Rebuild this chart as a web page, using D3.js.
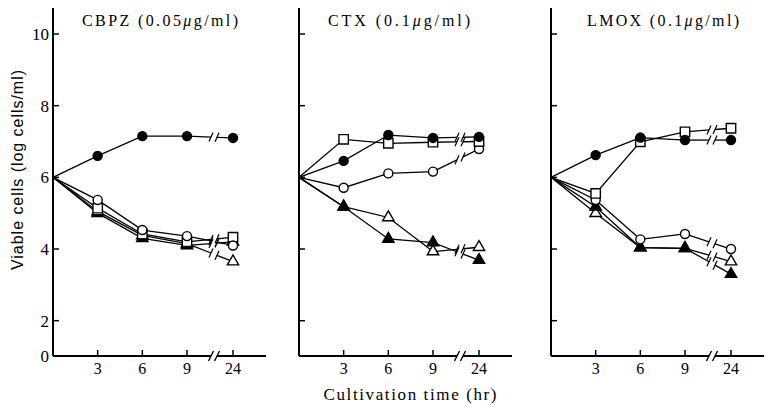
<!DOCTYPE html>
<html>
<head>
<meta charset="utf-8">
<script src="https://cdn.jsdelivr.net/npm/d3@7"></script>
<style>
  body { margin: 0; background: #fff; }
  svg { display: block; }
  .serif { font-family: "Liberation Serif", "DejaVu Serif", serif; }
  .sans { font-family: "Liberation Sans", "DejaVu Sans", sans-serif; }
</style>
</head>
<body>
<svg width="764" height="405"></svg>
<script>
// data
const times = [0, 3, 6, 9, 24];
const timeLabels = ["3", "6", "9", "24"];
const yTicks = [0, 2, 4, 6, 8, 10];

const cbpzFilledCircle   = [6, 6.60, 7.15, 7.15, 7.10];
const cbpzOpenCircle     = [6, 5.37, 4.53, 4.36, 4.10];
const cbpzOpenSquare     = [6, 5.14, 4.42, 4.20, 4.33];
const cbpzOpenTriangle   = [6, 5.05, 4.38, 4.15, 3.65];
const cbpzFilledTriangle = [6, 5.00, 4.30, 4.10, 4.20];

const ctxFilledCircle   = [6, 6.46, 7.18, 7.10, 7.13];
const ctxOpenSquare     = [6, 7.06, 6.95, 6.98, 7.00];
const ctxOpenCircle     = [6, 5.71, 6.11, 6.16, 6.79];
const ctxOpenTriangle   = [6, 5.18, 4.88, 3.93, 4.05];
const ctxFilledTriangle = [6, 5.18, 4.28, 4.18, 3.69];

const lmoxFilledCircle   = [6, 6.62, 7.11, 7.04, 7.04];
const lmoxOpenSquare     = [6, 5.55, 6.99, 7.27, 7.37];
const lmoxOpenCircle     = [6, 5.37, 4.27, 4.42, 4.00];
const lmoxOpenTriangle   = [6, 5.00, 4.04, 4.02, 3.65];
const lmoxFilledTriangle = [6, 5.18, 4.04, 4.02, 3.30];

const panels = [
  { name: "CBPZ", dose: "0.05", series: [
    { shape: "triangle", filled: true,  values: cbpzFilledTriangle },
    { shape: "triangle", filled: false, values: cbpzOpenTriangle },
    { shape: "square",   filled: false, values: cbpzOpenSquare },
    { shape: "circle",   filled: false, values: cbpzOpenCircle },
    { shape: "circle",   filled: true,  values: cbpzFilledCircle }]},
  { name: "CTX", dose: "0.1", series: [
    { shape: "triangle", filled: false, values: ctxOpenTriangle },
    { shape: "triangle", filled: true,  values: ctxFilledTriangle },
    { shape: "circle",   filled: false, values: ctxOpenCircle },
    { shape: "square",   filled: false, values: ctxOpenSquare },
    { shape: "circle",   filled: true,  values: ctxFilledCircle }]},
  { name: "LMOX", dose: "0.1", series: [
    { shape: "triangle", filled: false, values: lmoxOpenTriangle },
    { shape: "triangle", filled: true,  values: lmoxFilledTriangle },
    { shape: "circle",   filled: false, values: lmoxOpenCircle },
    { shape: "square",   filled: false, values: lmoxOpenSquare },
    { shape: "circle",   filled: true,  values: lmoxFilledCircle }]}
];

// layout
const panelX = [53, 299, 551];
const titleX = [29, 29, 36];
const titleLen = [156, 142, 152];
const axisLen = 213;
const breakOff = 161;
const yAxisTop = 8;

const svg = d3.select("svg");

// y axis compressed between 0 and 2 (broken axis in original)
const y = d3.scaleLinear().domain([0, 2, 10]).range([356, 320.7, 34]);
const x = d3.scaleLinear().domain([0, 9, 24]).range([0, 134, 180]);
const y0 = y(0);

const symbols = { circle: d3.symbolCircle, square: d3.symbolSquare, triangle: d3.symbolTriangle };
const symSize = { circle: 64, square: 88, triangle: 56 };

panels.forEach((p, i) => {
  const g = svg.append("g").attr("transform", `translate(${panelX[i]},0)`);
  const xb = breakOff;

  // axes
  g.append("line").attr("x1", 0).attr("x2", 0).attr("y1", yAxisTop).attr("y2", y0)
    .attr("stroke", "#000").attr("stroke-width", 2);
  g.append("line").attr("x1", 0).attr("x2", xb - 3).attr("y1", y0).attr("y2", y0)
    .attr("stroke", "#000").attr("stroke-width", 2);
  g.append("line").attr("x1", xb + 3).attr("x2", axisLen).attr("y1", y0).attr("y2", y0)
    .attr("stroke", "#000").attr("stroke-width", 2);
  [xb - 3, xb + 3].forEach(bx => {
    g.append("line").attr("x1", bx - 2.5).attr("x2", bx + 2.5)
      .attr("y1", y0 + 5).attr("y2", y0 - 5)
      .attr("stroke", "#000").attr("stroke-width", 1.4);
  });

  yTicks.filter(d => d > 0).forEach(d => {
    g.append("line").attr("x1", 0).attr("x2", 6).attr("y1", y(d)).attr("y2", y(d))
      .attr("stroke", "#000").attr("stroke-width", 1.5);
  });
  if (i === 0) {
    g.selectAll(".ylab").data(yTicks).enter().append("text")
      .attr("class", "serif").attr("x", -4).attr("y", d => y(d) + 6)
      .attr("text-anchor", "end").attr("font-size", 17).text(d => d);
  }

  times.slice(1).forEach((t, k) => {
    g.append("line").attr("x1", x(t)).attr("x2", x(t)).attr("y1", y0).attr("y2", y0 - 6)
      .attr("stroke", "#000").attr("stroke-width", 1.5);
    g.append("text").attr("class", "serif").attr("x", x(t)).attr("y", y0 + 17.5)
      .attr("text-anchor", "middle").attr("font-size", 16).text(timeLabels[k]);
  });

  // title
  const tt = g.append("text").attr("class", "serif").attr("x", titleX[i]).attr("y", 26)
    .attr("font-size", 16).attr("textLength", titleLen[i]).attr("lengthAdjust", "spacing");
  tt.append("tspan").text(`${p.name} (${p.dose}`);
  tt.append("tspan").attr("font-style", "italic").text("\u03bc");
  tt.append("tspan").text("g/ml)");

  // lines
  p.series.forEach(s => {
    const pts = times.map((t, k) => [x(t), y(s.values[k])]);
    g.append("path").attr("d", d3.line()(pts.slice(0, 4)))
      .attr("fill", "none").attr("stroke", "#000").attr("stroke-width", 1.3);
    const [a, b] = [pts[3], pts[4]];
    const at = xx => a[1] + (b[1] - a[1]) * (xx - a[0]) / (b[0] - a[0]);
    const pA = [xb - 3, at(xb - 3)], pB = [xb + 3, at(xb + 3)];
    g.append("path").attr("d", d3.line()([a, pA]))
      .attr("fill", "none").attr("stroke", "#000").attr("stroke-width", 1.3);
    g.append("path").attr("d", d3.line()([pB, b]))
      .attr("fill", "none").attr("stroke", "#000").attr("stroke-width", 1.3);
    [pA, pB].forEach(q => {
      g.append("line").attr("x1", q[0] - 2).attr("x2", q[0] + 2)
        .attr("y1", q[1] + 4.5).attr("y2", q[1] - 4.5)
        .attr("stroke", "#000").attr("stroke-width", 1.2);
    });
  });

  // markers
  p.series.forEach(s => {
    g.selectAll(null).data(times.slice(1)).enter().append("path")
      .attr("transform", (t, k) => `translate(${x(t)},${y(s.values[k + 1])})`)
      .attr("d", d3.symbol().type(symbols[s.shape]).size(symSize[s.shape]))
      .attr("fill", s.filled ? "#000" : "#fff")
      .attr("stroke", "#000").attr("stroke-width", 1.4);
  });
});

// axis titles
svg.append("text").attr("class", "sans")
  .attr("transform", "translate(23,170) rotate(-90)")
  .attr("text-anchor", "middle").attr("font-size", 16)
  .attr("textLength", 200).attr("lengthAdjust", "spacing")
  .text("Viable cells (log cells/ml)");

svg.append("text").attr("class", "serif")
  .attr("x", 410).attr("y", 400).attr("text-anchor", "middle")
  .attr("font-size", 17).attr("textLength", 173).attr("lengthAdjust", "spacing")
  .text("Cultivation time (hr)");
</script>
</body>
</html>
